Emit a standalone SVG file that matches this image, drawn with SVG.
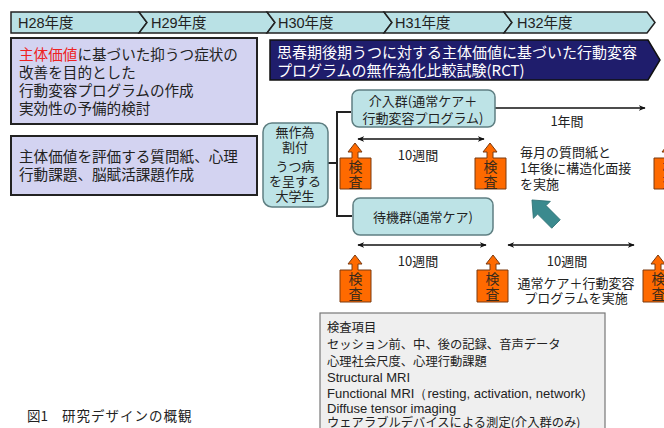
<svg xmlns="http://www.w3.org/2000/svg" width="664" height="428" viewBox="0 0 664 428">
<defs>
<marker id="ah" viewBox="0 0 10 10" refX="9" refY="5" markerWidth="7" markerHeight="7" orient="auto-start-reverse" markerUnits="userSpaceOnUse">
<path d="M0,1 L10,5 L0,9 L3,5 Z" fill="#111"/>
</marker>
<style>
text{font-family:"Noto Sans CJK JP","Noto Sans",sans-serif;fill:#222}
.yr{font-family:"Liberation Sans","Noto Sans CJK JP",sans-serif;font-size:14.5px}
.band{fill:#b9e1e5;stroke:#222;stroke-width:1.5}
.lav{fill:#d3d3f1;stroke:#222;stroke-width:2}
.lt{font-size:14.6px}
.node{fill:#bde3e6;stroke:#5f7f82;stroke-width:1.5}
.nt{font-size:13px;text-anchor:middle}
.ex{fill:#ff6a00;stroke:#7a3a10;stroke-width:1}
.et{font-size:14px;writing-mode:vertical-rl;letter-spacing:1px;fill:#3a2a1a}
.ln{fill:none;stroke:#111;stroke-width:1.6}
.br{fill:none;stroke:#222;stroke-width:2}
.sm{font-size:13px}
.lat{font-family:"Liberation Sans",sans-serif;font-size:13px}
.ck{font-size:12.3px}
</style>
</defs>
<rect width="664" height="428" fill="#ffffff"/>

<g id="timeline">
<polygon class="band" points="11,12 139,12 147,22.5 139,33 11,33"/>
<polygon class="band" points="139,12 267,12 275,22.5 267,33 139,33 147,22.5"/>
<polygon class="band" points="267,12 384,12 392,22.5 384,33 267,33 275,22.5"/>
<polygon class="band" points="384,12 504,12 512,22.5 504,33 384,33 392,22.5"/>
<polygon class="band" points="504,12 647,12 655,22.5 647,33 504,33 512,22.5"/>
<text class="yr" x="18" y="28">H28年度</text>
<text class="yr" x="151" y="28">H29年度</text>
<text class="yr" x="278" y="28">H30年度</text>
<text class="yr" x="395" y="28">H31年度</text>
<text class="yr" x="517" y="28">H32年度</text>
</g>

<g id="goal1">
<rect class="lav" x="11" y="38" width="246" height="86"/>
<text class="lt"><tspan x="19" y="60"><tspan fill="#ee2222">主体価値</tspan>に基づいた抑うつ症状の</tspan><tspan x="19" y="78">改善を目的とした</tspan><tspan x="19" y="96">行動変容プログラムの作成</tspan><tspan x="19" y="114">実効性の予備的検討</tspan></text>
</g>

<g id="goal2">
<rect class="lav" x="11" y="136" width="246" height="59"/>
<text class="lt"><tspan x="19" y="162">主体価値を評価する質問紙、心理</tspan><tspan x="19" y="180">行動課題、脳賦活課題作成</tspan></text>
</g>

<g id="rct">
<polygon points="270,40 648,40 660,60 648,80 270,80" fill="#1f1d6c" stroke="#111" stroke-width="1.5"/>
<text font-size="15" style="fill:#ffffff"><tspan x="277" y="58">思春期後期うつに対する主体価値に基づいた行動変容</tspan><tspan x="277" y="76">プログラムの無作為化比較試験(RCT)</tspan></text>
</g>

<g id="connectors">
<path class="br" d="M351,112 H337 V216 H352 M328,163 H337"/>
<line class="ln" x1="495" y1="108" x2="645" y2="108" marker-end="url(#ah)"/>
<line class="ln" x1="358" y1="139" x2="484" y2="139" marker-start="url(#ah)" marker-end="url(#ah)"/>
<line class="ln" x1="358" y1="245" x2="486" y2="245" marker-start="url(#ah)" marker-end="url(#ah)"/>
<line class="ln" x1="508" y1="245" x2="634" y2="245" marker-start="url(#ah)" marker-end="url(#ah)"/>
<polygon transform="translate(556,224) rotate(-135)" points="0,-6 20,-6 20,-12 34,0 20,12 20,6 0,6" fill="#3b8a8e" stroke="#2e6f72" stroke-width="0.8"/>
<text class="sm" x="567" y="126" text-anchor="middle">1年間</text>
<text class="sm" x="418" y="160" text-anchor="middle">10週間</text>
<text class="sm" x="418" y="266" text-anchor="middle">10週間</text>
<text class="sm" x="567" y="266" text-anchor="middle">10週間</text>
<text class="sm"><tspan x="520" y="157">毎月の質問紙と</tspan><tspan x="520" y="173">1年後に構造化面接</tspan><tspan x="520" y="189">を実施</tspan></text>
<text class="sm" text-anchor="middle"><tspan x="576" y="288">通常ケア＋行動変容</tspan><tspan x="576" y="303">プログラムを実施</tspan></text>
</g>

<g id="allocation">
<rect class="node" x="263" y="123" width="65" height="84" rx="9"/>
<text class="nt"><tspan x="295" y="137">無作為</tspan><tspan x="295" y="152">割付</tspan><tspan x="295" y="171">うつ病</tspan><tspan x="295" y="186">を呈する</tspan><tspan x="295" y="201">大学生</tspan></text>
</g>

<g id="intervention">
<rect class="node" x="352" y="90" width="143" height="37" rx="7"/>
<text class="nt"><tspan x="423" y="106">介入群(通常ケア＋</tspan><tspan x="423" y="123">行動変容プログラム)</tspan></text>
</g>

<g id="waitlist">
<rect class="node" x="353" y="198" width="140" height="37" rx="7"/>
<text class="nt" x="423" y="222">待機群(通常ケア)</text>
</g>

<g id="exam1">
<polygon class="ex" points="340,158 352,158 352,152 348,152 355,143 362,152 358,152 358,158 371,158 371,189 340,189"/>
<text class="et" x="355.5" y="160">検査</text>
</g>
<g id="exam2">
<polygon class="ex" points="475,158 487,158 487,152 483,152 490,143 497,152 493,152 493,158 506,158 506,189 475,189"/>
<text class="et" x="490.5" y="160">検査</text>
</g>
<g id="exam3">
<polygon class="ex" points="654,158 666,158 666,152 662,152 669,143 676,152 672,152 672,158 685,158 685,189 654,189"/>
<text class="et" x="669.5" y="160">検査</text>
</g>
<g id="exam4">
<polygon class="ex" points="340,270 352,270 352,264 348,264 355,255 362,264 358,264 358,270 371,270 371,302 340,302"/>
<text class="et" x="355.5" y="272">検査</text>
</g>
<g id="exam5">
<polygon class="ex" points="477,270 490,270 490,264 486,264 493,255 500,264 496,264 496,270 508,270 508,302 477,302"/>
<text class="et" x="492.5" y="272">検査</text>
</g>
<g id="exam6">
<polygon class="ex" points="643,270 655,270 655,264 651,264 658,255 665,264 661,264 661,270 674,270 674,302 643,302"/>
<text class="et" x="658.5" y="272">検査</text>
</g>

<g id="checklist">
<rect x="320" y="313" width="285" height="130" fill="#efefef" stroke="#777" stroke-width="1.2"/>
<text class="ck"><tspan x="327" y="332">検査項目</tspan><tspan x="327" y="349">セッション前、中、後の記録、音声データ</tspan><tspan x="327" y="366">心理社会尺度、心理行動課題</tspan><tspan class="lat" x="327" y="382">Structural MRI</tspan><tspan class="lat" x="327" y="398">Functional MRI（resting, activation, network)</tspan><tspan class="lat" x="327" y="413">Diffuse tensor imaging</tspan><tspan x="327" y="427">ウェアラブルデバイスによる測定(介入群のみ)</tspan></text>
</g>

<g id="caption">
<text x="27" y="421" font-size="13.5">図1</text>
<text x="62" y="421" font-size="13.5" letter-spacing="1">研究デザインの概観</text>
</g>
</svg>
